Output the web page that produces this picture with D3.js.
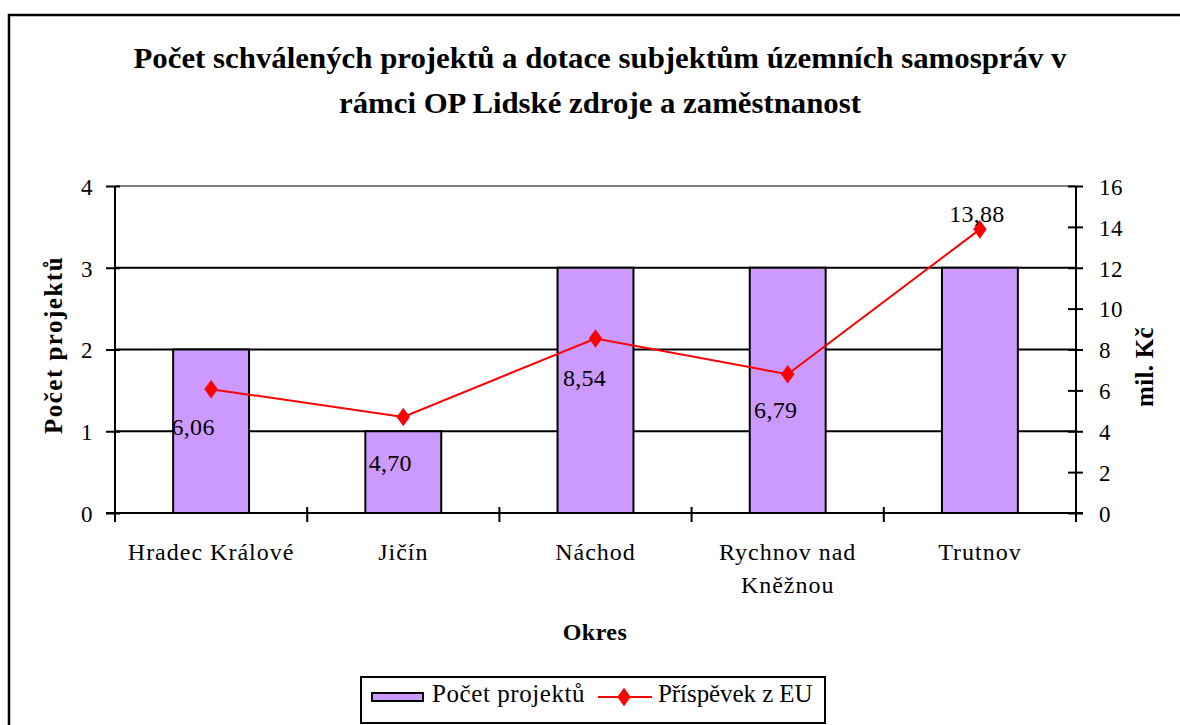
<!DOCTYPE html>
<html><head><meta charset="utf-8">
<script src="https://cdn.jsdelivr.net/npm/d3@7"></script>
<style>body{margin:0;background:#fff}svg{display:block}</style>
</head><body><svg id="c" width="1180" height="725" style="font-family:'Liberation Serif', serif"></svg>
<script>
const categories = ["Hradec Králové","Jičín","Náchod","Rychnov nad Kněžnou","Trutnov"];
const projects = [2,1,3,3,3];
const eu = [6.06,4.70,8.54,6.79,13.88];
const euLabels = ["6,06","4,70","8,54","6,79","13,88"];
const leftTicks = [0,1,2,3,4];
const rightTicks = [0,2,4,6,8,10,12,14,16];
const titleLines = ["Počet schválených projektů a dotace subjektům územních samospráv v","rámci OP Lidské zdroje a zaměstnanost"];

const F = (size,bold,ls)=>`font-family:'Liberation Serif', serif;font-size:${size}px;font-weight:${bold?'bold':'normal'};letter-spacing:${ls||0}px;fill:#000`;

const svg = d3.select("#c");
const L=115,R=1076,T=186,B=513;
svg.append("rect").attr("x",9).attr("y",15).attr("width",1200).attr("height",760).attr("fill","#fff").attr("stroke","#000").attr("stroke-width",2.5);

const x = d3.scaleBand().domain(categories).range([L,R]).paddingInner(0.605).paddingOuter(0.3025);
const yL = d3.scaleLinear().domain([0,4]).range([B,T]);
const yR = d3.scaleLinear().domain([0,16]).range([B,T]);

// title
const titleW=[933,522];
svg.append("g").selectAll("text").data(titleLines).join("text")
  .attr("x",600).attr("y",(d,i)=>68+i*45).attr("text-anchor","middle")
  .attr("style",F(29,true)).attr("textLength",(d,i)=>titleW[i]).attr("lengthAdjust","spacingAndGlyphs").text(d=>d);

// plot border top
svg.append("line").attr("x1",L).attr("x2",R).attr("y1",T).attr("y2",T).attr("stroke","#808080").attr("stroke-width",2);
// gridlines
svg.append("g").selectAll("line").data(leftTicks.filter(t=>t>0&&t<4)).join("line")
  .attr("x1",L).attr("x2",R).attr("y1",d=>yL(d)).attr("y2",d=>yL(d)).attr("stroke","#000").attr("stroke-width",2);

// bars
svg.append("g").selectAll("rect").data(categories).join("rect")
  .attr("x",d=>x(d)).attr("width",x.bandwidth())
  .attr("y",(d,i)=>yL(projects[i])).attr("height",(d,i)=>B-yL(projects[i]))
  .attr("fill","#CC99FF").attr("stroke","#000").attr("stroke-width",2);

// left axis
const gl = svg.append("g").attr("transform",`translate(${L},0)`).call(d3.axisLeft(yL).tickValues(leftTicks).tickSize(9).tickPadding(13).tickFormat(d3.format("d")));
gl.selectAll(".tick line").attr("x2",-9).attr("x1",5).attr("stroke-width",2);
gl.select(".domain").attr("stroke-width",2).attr("d",`M0,${T}V${B+8}`);
gl.selectAll("text").attr("style",F(23,false,0.5)).attr("dy","0.36em");
// right axis
const gr = svg.append("g").attr("transform",`translate(${R},0)`).call(d3.axisRight(yR).tickValues(rightTicks).tickSize(7).tickPadding(16).tickFormat(d3.format("d")));
gr.selectAll(".tick line").attr("x1",-8).attr("x2",7).attr("stroke-width",2);
gr.select(".domain").attr("stroke-width",2).attr("d",`M0,${T}V${B+9}`);
gr.selectAll("text").attr("style",F(23,false,0.5)).attr("dy","0.36em");

// x axis
const bounds = d3.range(categories.length+1).map(i=>L+i*(R-L)/categories.length);
svg.append("line").attr("x1",L-9).attr("x2",R+7).attr("y1",B).attr("y2",B).attr("stroke","#000").attr("stroke-width",2);
svg.append("g").selectAll("line").data(bounds).join("line")
  .attr("x1",d=>d).attr("x2",d=>d).attr("y1",B-6).attr("y2",B+9).attr("stroke","#000").attr("stroke-width",2);
const catWrap = {"Rychnov nad Kněžnou":["Rychnov nad","Kněžnou"]};
svg.append("g").selectAll("text").data(categories).join("text")
  .attr("x",d=>x(d)+x.bandwidth()/2).attr("y",560).attr("text-anchor","middle").attr("style",F(24,false,1))
  .each(function(d){const lines=catWrap[d]||[d];d3.select(this).selectAll("tspan").data(lines).join("tspan").attr("x",x(d)+x.bandwidth()/2).attr("dy",(l,i)=>i?33:0).text(l=>l);});

// line
const cx = d=>x(d)+x.bandwidth()/2;
svg.append("path").datum(categories).attr("fill","none").attr("stroke","#FF0000").attr("stroke-width",2)
  .attr("d",d3.line().x(d=>cx(d)).y((d,i)=>yR(eu[i])));
svg.append("g").selectAll("path").data(categories).join("path")
  .attr("d",d3.symbol(d3.symbolDiamond,100)).attr("fill","#FF0000")
  .attr("transform",(d,i)=>`translate(${cx(d)},${yR(eu[i])}) scale(1.25,1)`);
const lblDx=[-18,-13,-11,-12,-3], lblDy=[46,54,48,44,-7];
svg.append("g").selectAll("text").data(categories).join("text")
  .attr("x",(d,i)=>cx(d)+lblDx[i]).attr("y",(d,i)=>yR(eu[i])+lblDy[i]).attr("text-anchor","middle").attr("style",F(24,false,0.3))
  .text((d,i)=>euLabels[i]);

// axis titles
svg.append("text").attr("transform","translate(62,345) rotate(-90)").attr("text-anchor","middle").attr("style",F(25,true,1.5)).text("Počet projektů");
svg.append("text").attr("transform","translate(1153,367) rotate(-90)").attr("text-anchor","middle").attr("style",F(25,true,0.3)).text("mil. Kč");
svg.append("text").attr("x",595).attr("y",640).attr("text-anchor","middle").attr("style",F(24,true,0.5)).text("Okres");

// legend
const lg = svg.append("g");
lg.append("rect").attr("x",361).attr("y",677).attr("width",464).attr("height",46).attr("fill","#fff").attr("stroke","#000").attr("stroke-width",2);
lg.append("rect").attr("x",372).attr("y",693).attr("width",51).attr("height",8).attr("fill","#CC99FF").attr("stroke","#000").attr("stroke-width",2);
lg.append("text").attr("x",432).attr("y",702).attr("style",F(25,false,0.4)).attr("textLength",153).attr("lengthAdjust","spacing").text("Počet projektů");
lg.append("line").attr("x1",598).attr("x2",652).attr("y1",697).attr("y2",697).attr("stroke","#FF0000").attr("stroke-width",2);
lg.append("path").attr("d",d3.symbol(d3.symbolDiamond,100)).attr("fill","#FF0000").attr("transform","translate(624,697) scale(1.25,1)");
lg.append("text").attr("x",658).attr("y",702).attr("style",F(25,false,0.4)).attr("textLength",155).attr("lengthAdjust","spacing").text("Příspěvek z EU");
</script></body></html>
